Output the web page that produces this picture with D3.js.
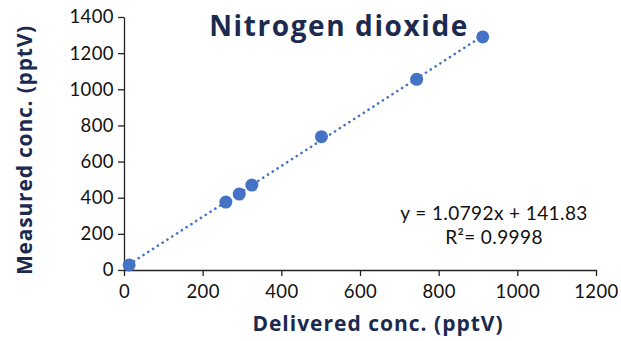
<!DOCTYPE html>
<html>
<head>
<meta charset="utf-8">
<script src="https://cdn.jsdelivr.net/npm/d3@7"></script>
<style>
  body { margin: 0; background: #fff; }
  svg { display: block; font-family: "Open Sans", Lato, sans-serif; }
</style>
</head>
<body>
<svg id="chart"></svg>
<script>
// measured vs delivered concentrations (pptV)
const delivered = [13, 259, 293, 325, 502, 744, 912];
const measured = [28, 376, 420, 470, 738, 1055, 1290];
const xTicks = [0, 200, 400, 600, 800, 1000, 1200];
const yTicks = [0, 200, 400, 600, 800, 1000, 1200, 1400];
const titleText = "Nitrogen dioxide";
const xLabel = "Delivered conc. (pptV)";
const yLabel = "Measured conc. (pptV)";
const eqLines = ["y = 1.0792x + 141.83", "R²= 0.9998"];

const W = 621, H = 341;
const margin = { top: 17, right: 25, bottom: 71, left: 124 };
const width = W - margin.left - margin.right;
const height = H - margin.top - margin.bottom;

const navy = "#1b2a4e";
const blue = "#4472c4";

const svg = d3.select("#chart").attr("width", W).attr("height", H);
const g = svg.append("g").attr("transform", `translate(${margin.left},${margin.top})`);

const x = d3.scaleLinear().domain([0, 1200]).range([0, width]);
const y = d3.scaleLinear().domain([0, 1400]).range([height, 0]);

// axes
const xAxis = g.append("g")
    .attr("transform", `translate(0,${height})`)
    .call(d3.axisBottom(x).tickValues(xTicks).tickFormat(d3.format("d")).tickSize(6).tickSizeOuter(0));
const yAxis = g.append("g")
    .call(d3.axisLeft(y).tickValues(yTicks).tickFormat(d3.format("d")).tickSize(6).tickSizeOuter(0));

[xAxis, yAxis].forEach(a => {
    a.select(".domain").attr("stroke", "#222").attr("stroke-width", 1.3);
    a.selectAll(".tick line").attr("stroke", "#222").attr("stroke-width", 1.3);
    a.selectAll(".tick text").attr("fill", "#111").attr("font-size", 18.5)
        .attr("font-family", "Lato, sans-serif")
        .attr("letter-spacing", 0.4);
});
xAxis.selectAll(".tick text").attr("dy", "1.05em");
yAxis.selectAll(".tick text").attr("x", -10);

// linear trendline (least squares) over the data range
const n = delivered.length;
const mx = d3.mean(delivered), my = d3.mean(measured);
let sxy = 0, sxx = 0;
for (let i = 0; i < n; i++) {
    sxy += (delivered[i] - mx) * (measured[i] - my);
    sxx += (delivered[i] - mx) ** 2;
}
const slope = sxy / sxx, icpt = my - slope * mx;
const x0 = d3.min(delivered), x1 = d3.max(delivered);

g.append("line")
    .attr("x1", x(x0)).attr("y1", y(slope * x0 + icpt))
    .attr("x2", x(x1)).attr("y2", y(slope * x1 + icpt))
    .attr("stroke", blue)
    .attr("stroke-width", 2.6)
    .attr("stroke-linecap", "round")
    .attr("stroke-dasharray", "0.1 5.6");

// points
g.selectAll(".pt")
    .data(delivered.map((d, i) => ({ x: d, y: measured[i] })))
    .enter()
    .append("circle")
    .attr("class", "pt")
    .attr("cx", d => x(d.x))
    .attr("cy", d => y(d.y))
    .attr("r", 6.5)
    .attr("fill", blue);

// title
svg.append("text")
    .attr("x", 339).attr("y", 36)
    .attr("text-anchor", "middle")
    .attr("font-size", 28).attr("font-weight", 700)
    .attr("letter-spacing", 1.6)
    .attr("fill", navy)
    .text(titleText);

// axis labels
svg.append("text")
    .attr("x", 378).attr("y", 331)
    .attr("text-anchor", "middle")
    .attr("font-size", 21).attr("font-weight", 700)
    .attr("letter-spacing", 1)
    .attr("fill", navy)
    .text(xLabel);

svg.append("text")
    .attr("transform", `translate(32,150) rotate(-90)`)
    .attr("text-anchor", "middle")
    .attr("font-size", 21).attr("font-weight", 700)
    .attr("letter-spacing", 0.8)
    .attr("fill", navy)
    .text(yLabel);

// equation
const eq = svg.append("text")
    .attr("text-anchor", "middle")
    .attr("font-size", 19)
    .attr("font-family", "Lato, sans-serif")
    .attr("letter-spacing", 0.4)
    .attr("fill", "#111");
eq.selectAll("tspan")
    .data(eqLines)
    .enter()
    .append("tspan")
    .attr("x", 494)
    .attr("y", (d, i) => 220 + i * 24)
    .text(d => d);
</script>
</body>
</html>
